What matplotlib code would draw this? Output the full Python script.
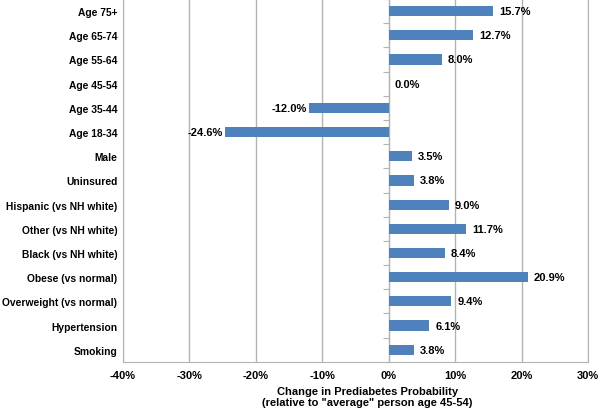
import numpy as np
from matplotlib import pyplot as plt
from matplotlib.ticker import FuncFormatter

# categories from top to bottom
categories = [
    "Age 75+",
    "Age 65-74",
    "Age 55-64",
    "Age 45-54",
    "Age 35-44",
    "Age 18-34",
    "Male",
    "Uninsured",
    "Hispanic (vs NH white)",
    "Other (vs NH white)",
    "Black (vs NH white)",
    "Obese (vs normal)",
    "Overweight (vs normal)",
    "Hypertension",
    "Smoking",
]
values = [15.7, 12.7, 8.0, 0.0, -12.0, -24.6, 3.5, 3.8, 9.0, 11.7, 8.4, 20.9, 9.4, 6.1, 3.8]
x_ticks = [-40, -30, -20, -10, 0, 10, 20, 30]

plt.rcParams["font.family"] = ["Liberation Sans", "DejaVu Sans"]
plt.rcParams["font.weight"] = "bold"

bar_color = "#4F81BD"
grid_color = "#b3b3b3"

fig = plt.figure(figsize=(6, 4.1), dpi=100)
ax = fig.add_axes([0.205, 0.115, 0.775, 0.885])

y = np.arange(len(categories))
ax.barh(y, values, height=0.42, color=bar_color, zorder=3)

# value labels next to bar ends
for yi, v in zip(y, values):
    if v < 0:
        ax.text(v - 0.3, yi, f"{v:.1f}%", ha="right", va="center", fontsize=8, fontweight="bold", zorder=4)
    else:
        ax.text(v + 0.9, yi, f"{v:.1f}%", ha="left", va="center", fontsize=8, fontweight="bold", zorder=4)

ax.set_xlim(x_ticks[0], x_ticks[-1])
ax.set_ylim(len(categories) - 0.5, -0.5)
ax.set_xticks(x_ticks)
ax.xaxis.set_major_formatter(FuncFormatter(lambda v, p: f"{v:.0f}%"))
ax.set_yticks(y)
ax.set_yticklabels(categories)
ax.tick_params(axis="both", length=0, labelsize=8)
ax.tick_params(axis="y", labelsize=7.4, pad=4)
ax.tick_params(axis="x", pad=6)

ax.grid(axis="x", color=grid_color, linewidth=1, zorder=0)
ax.spines["top"].set_visible(False)
for side in ["left", "right", "bottom"]:
    ax.spines[side].set_color(grid_color)

# category axis drawn at zero with boundary ticks
zero_pos = (0 - x_ticks[0]) / (x_ticks[-1] - x_ticks[0])
sec = ax.secondary_yaxis(zero_pos)
sec.set_alignment("left")
sec.set_yticks(np.arange(-0.5, len(categories), 1.0))
sec.set_yticklabels([])
sec.tick_params(axis="y", length=4, color=grid_color, direction="out")
sec.spines["left"].set_color(grid_color)

ax.set_xlabel(
    "Change in Prediabetes Probability\n(relative to \"average\" person age 45-54)",
    fontsize=8,
    fontweight="bold",
    labelpad=4,
    x=0.525,
)

fig.savefig("out.png", dpi=100)
